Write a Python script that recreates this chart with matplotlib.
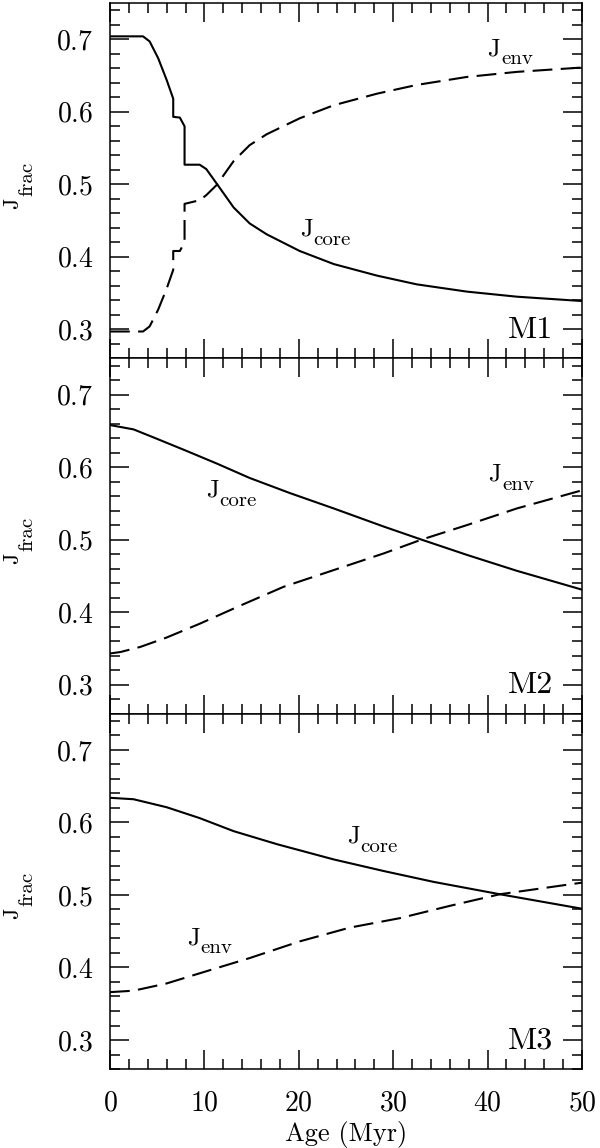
import matplotlib
matplotlib.use("Agg")
import matplotlib.pyplot as plt
from matplotlib.ticker import MultipleLocator

plt.rcParams['font.family'] = ['cmr10', 'DejaVu Serif']
plt.rcParams['mathtext.fontset'] = 'cm'
plt.rcParams['axes.formatter.use_mathtext'] = True

# M1
age1 = [0, 3.5, 4.2, 5.1, 6.0, 6.7, 6.7, 7.4, 7.9, 7.9, 9.5, 10.2, 11.3, 13.1, 14.8,
        16.6, 20.1, 23.7, 28.3, 32.5, 37.8, 43.1, 50]
core1 = [0.704, 0.704, 0.697, 0.674, 0.644, 0.618, 0.593, 0.592, 0.580, 0.527, 0.527,
         0.521, 0.501, 0.468, 0.446, 0.431, 0.408, 0.390, 0.374, 0.362, 0.352, 0.345, 0.339]
env1 = [0.297, 0.297, 0.304, 0.327, 0.356, 0.382, 0.408, 0.408, 0.420, 0.473, 0.478,
        0.485, 0.499, 0.532, 0.554, 0.569, 0.591, 0.609, 0.625, 0.637, 0.648, 0.655, 0.661]

# M2
age2 = [0, 2.5, 4.6, 7.8, 11.3, 14.8, 19.1, 23.7, 29.0, 33.0, 37.8, 43.1, 50]
core2 = [0.658, 0.652, 0.641, 0.624, 0.605, 0.585, 0.564, 0.543, 0.518, 0.500, 0.479, 0.457, 0.431]
age2e = [0, 1.1, 3.2, 6.0, 9.5, 13.8, 18.4, 23.7, 29.0, 33.0, 37.8, 43.1, 50]
env2 = [0.343, 0.345, 0.352, 0.365, 0.384, 0.409, 0.435, 0.458, 0.481, 0.500, 0.520, 0.543, 0.568]

# M3
age3 = [0, 2.5, 6.0, 9.5, 13.1, 17.7, 23.7, 29.0, 34.3, 41.3, 50]
core3 = [0.634, 0.632, 0.621, 0.606, 0.588, 0.570, 0.549, 0.533, 0.518, 0.501, 0.481]
age3e = [0, 2.5, 6.0, 9.5, 14.8, 20.1, 25.4, 30.7, 36.0, 41.3, 50]
env3 = [0.366, 0.368, 0.378, 0.392, 0.413, 0.436, 0.455, 0.468, 0.485, 0.501, 0.517]

names = ['M1', 'M2', 'M3']
core_pos = [(20.1, 0.429), (10.2, 0.559), (25.1, 0.572)]
env_pos = [(40.0, 0.678), (40.1, 0.581), (8.2, 0.432)]

data = [(age1, core1, age1, env1), (age2, core2, age2e, env2), (age3, core3, age3e, env3)]


def jlabel(ax, x, y, sub, size=18, subsize=15):
    # big J plus a larger-than-mathtext subscript, like the original
    ax.text(x, y, 'J', fontsize=size, ha='left', va='baseline')
    ax.annotate(sub, xy=(x, y), xytext=(0.514 * size + 0.4, -6.5),
                textcoords='offset points', fontsize=subsize, ha='left', va='baseline')


fig = plt.figure(figsize=(6, 11.48), dpi=100)
fig.subplots_adjust(left=0.1833, right=0.97, top=0.9974, bottom=0.0688, hspace=0)
axes = fig.subplots(3, 1, sharex=True)

W, H = 600.0, 1148.0
ph = (1069 - 3) / 3.0

for i, ax in enumerate(axes):
    xc, yc, xe, ye = data[i]
    ax.plot(xc, yc, color='black', lw=1.5)
    ax.plot(xe, ye, color='black', lw=1.5, dashes=(9.5, 4))
    ax.set_xlim(0, 50)
    ax.set_ylim(0.26, 0.75)
    ax.xaxis.set_major_locator(MultipleLocator(10))
    ax.xaxis.set_minor_locator(MultipleLocator(2))
    ax.yaxis.set_minor_locator(MultipleLocator(0.02))
    ax.set_yticks([0.3, 0.4, 0.5, 0.6, 0.7])
    ax.tick_params(which='both', direction='in', top=True, right=True, width=1.1,
                   labelsize=20)
    ax.tick_params(which='major', length=13.5)
    ax.tick_params(which='minor', length=7)
    ax.tick_params(axis='y', pad=12)
    ax.tick_params(axis='x', pad=15)
    for s in ax.spines.values():
        s.set_linewidth(1.1)
    jlabel(ax, *core_pos[i], 'core')
    jlabel(ax, *env_pos[i], 'env')
    ax.text(46.9, 0.288, names[i], fontsize=23, ha='right', va='baseline')

    # rotated y label J_frac
    yc_px = 3 + i * ph + ph / 2
    fig.text(18 / W, 1 - (yc_px + 28) / H, 'J', fontsize=16, rotation=90,
             rotation_mode='anchor', ha='left', va='baseline')
    fig.text(32 / W, 1 - (yc_px + 15) / H, 'frac', fontsize=15, rotation=90,
             rotation_mode='anchor', ha='left', va='baseline')

axes[-1].set_xlabel('Age (Myr)', fontsize=19)
axes[-1].xaxis.set_label_coords(0.5, -0.145)

fig.savefig('out.png', dpi=100)
